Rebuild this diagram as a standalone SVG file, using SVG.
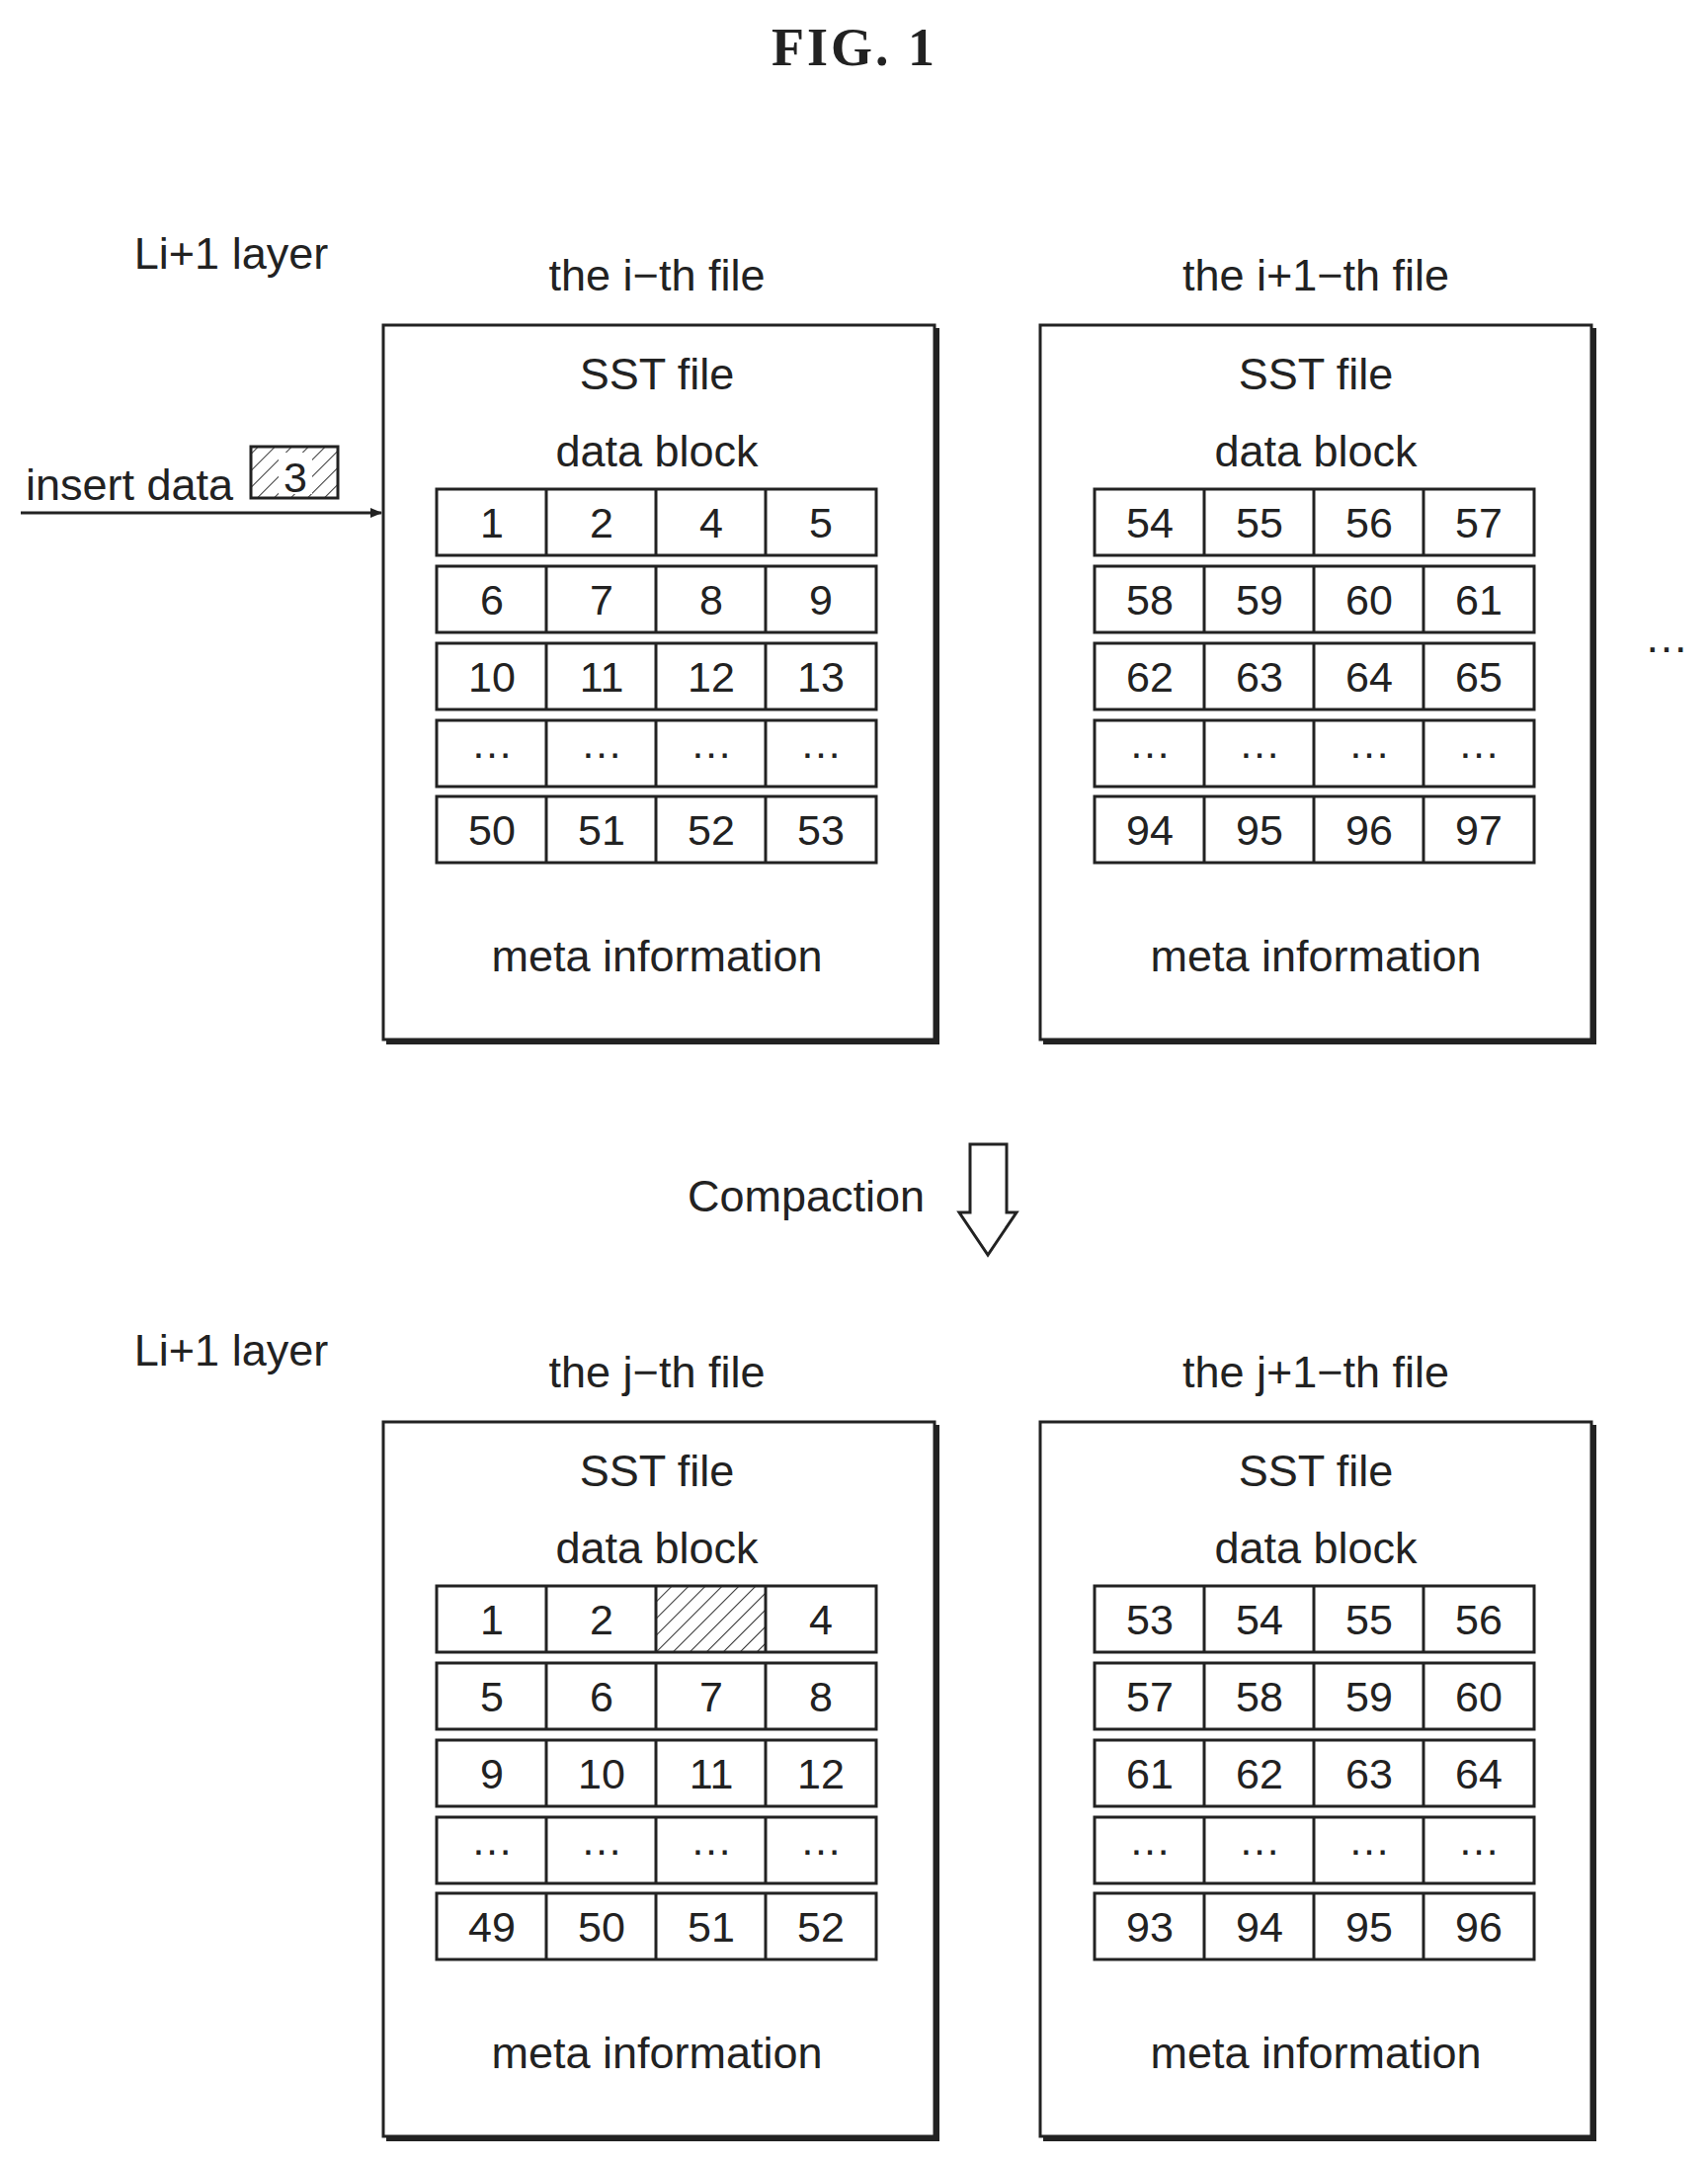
<svg xmlns="http://www.w3.org/2000/svg" width="1729" height="2190" viewBox="0 0 1729 2190">
<style>
text{font-family:"Liberation Sans",Arial,sans-serif;fill:#222;text-anchor:middle}
.t{font-size:45px}
.n{font-size:43px}
.box{fill:none;stroke:#222;stroke-width:3}
.sh{stroke:#222;stroke-width:6;fill:none}
.cell{fill:none;stroke:#222;stroke-width:3}
</style>
<defs>
<pattern id="hatch" width="12" height="12" patternUnits="userSpaceOnUse" patternTransform="rotate(45)">
<line x1="0" y1="0" x2="0" y2="12" stroke="#333" stroke-width="2"/>
</pattern>
<marker id="ah" markerWidth="12" markerHeight="10" refX="11" refY="5" orient="auto" markerUnits="userSpaceOnUse">
<path d="M0,0 L12,5 L0,10 Z" fill="#222"/>
</marker>
</defs>
<rect width="1729" height="2190" fill="#fff"/>
<text x="865" y="66" style="font-family:'Liberation Serif',serif;font-weight:bold;font-size:54px;letter-spacing:3px">FIG.  1</text>

<g id="top-layer-label"><text class="t" x="234" y="272">Li+1  layer</text></g>
<g id="bottom-layer-label"><text class="t" x="234" y="1382">Li+1  layer</text></g>

<g id="insert">
<text class="t" x="131" y="506">insert data</text>
<rect x="254" y="452" width="88" height="52" fill="url(#hatch)" stroke="#222" stroke-width="3"/>
<rect x="282" y="458" width="34" height="42" fill="#fff"/>
<text class="n" x="299" y="498">3</text>
</g>

<g id="connectors">
<line x1="21" y1="519" x2="386" y2="519" stroke="#222" stroke-width="3" marker-end="url(#ah)"/>
<path d="M982,1158 L1019,1158 L1019,1227 L1029,1227 L1000,1270 L971,1227 L982,1227 Z" fill="none" stroke="#222" stroke-width="3"/>
</g>
<g id="compaction"><text class="t" x="816" y="1226">Compaction</text></g>
<g id="dots"><text class="t" x="1687" y="660">…</text></g>

<g id="file-i">
<text class="t" x="665" y="294">the i−th file</text>
<rect class="box" x="388" y="329" width="558" height="723"/>
<polyline class="sh" points="948,332 948,1054 391,1054"/>
<text class="t" x="665" y="394">SST file</text>
<text class="t" x="665" y="472">data block</text>
<g transform="translate(442,495)">
<rect class="cell" x="0" y="0" width="445" height="67"/><rect class="cell" x="0" y="78" width="445" height="67"/><rect class="cell" x="0" y="156" width="445" height="67"/><rect class="cell" x="0" y="234" width="445" height="67"/><rect class="cell" x="0" y="311" width="445" height="67"/>
<path d="M111,0V67M222,0V67M333,0V67M111,78V145M222,78V145M333,78V145M111,156V223M222,156V223M333,156V223M111,234V301M222,234V301M333,234V301M111,311V378M222,311V378M333,311V378" stroke="#222" stroke-width="3"/>
<text class="n" x="56" y="49">1</text><text class="n" x="167" y="49">2</text><text class="n" x="278" y="49">4</text><text class="n" x="389" y="49">5</text>
<text class="n" x="56" y="127">6</text><text class="n" x="167" y="127">7</text><text class="n" x="278" y="127">8</text><text class="n" x="389" y="127">9</text>
<text class="n" x="56" y="205">10</text><text class="n" x="167" y="205">11</text><text class="n" x="278" y="205">12</text><text class="n" x="389" y="205">13</text>
<text class="n" x="56" y="272">…</text><text class="n" x="167" y="272">…</text><text class="n" x="278" y="272">…</text><text class="n" x="389" y="272">…</text>
<text class="n" x="56" y="360">50</text><text class="n" x="167" y="360">51</text><text class="n" x="278" y="360">52</text><text class="n" x="389" y="360">53</text>
</g>
<text class="t" x="665" y="983">meta information</text>
</g>

<g id="file-i1">
<text class="t" x="1332" y="294">the i+1−th file</text>
<rect class="box" x="1053" y="329" width="558" height="723"/>
<polyline class="sh" points="1613,332 1613,1054 1056,1054"/>
<text class="t" x="1332" y="394">SST file</text>
<text class="t" x="1332" y="472">data block</text>
<g transform="translate(1108,495)">
<rect class="cell" x="0" y="0" width="445" height="67"/><rect class="cell" x="0" y="78" width="445" height="67"/><rect class="cell" x="0" y="156" width="445" height="67"/><rect class="cell" x="0" y="234" width="445" height="67"/><rect class="cell" x="0" y="311" width="445" height="67"/>
<path d="M111,0V67M222,0V67M333,0V67M111,78V145M222,78V145M333,78V145M111,156V223M222,156V223M333,156V223M111,234V301M222,234V301M333,234V301M111,311V378M222,311V378M333,311V378" stroke="#222" stroke-width="3"/>
<text class="n" x="56" y="49">54</text><text class="n" x="167" y="49">55</text><text class="n" x="278" y="49">56</text><text class="n" x="389" y="49">57</text>
<text class="n" x="56" y="127">58</text><text class="n" x="167" y="127">59</text><text class="n" x="278" y="127">60</text><text class="n" x="389" y="127">61</text>
<text class="n" x="56" y="205">62</text><text class="n" x="167" y="205">63</text><text class="n" x="278" y="205">64</text><text class="n" x="389" y="205">65</text>
<text class="n" x="56" y="272">…</text><text class="n" x="167" y="272">…</text><text class="n" x="278" y="272">…</text><text class="n" x="389" y="272">…</text>
<text class="n" x="56" y="360">94</text><text class="n" x="167" y="360">95</text><text class="n" x="278" y="360">96</text><text class="n" x="389" y="360">97</text>
</g>
<text class="t" x="1332" y="983">meta information</text>
</g>

<g id="file-j">
<text class="t" x="665" y="1404">the j−th file</text>
<rect class="box" x="388" y="1439" width="558" height="723"/>
<polyline class="sh" points="948,1442 948,2164 391,2164"/>
<text class="t" x="665" y="1504">SST file</text>
<text class="t" x="665" y="1582">data block</text>
<g transform="translate(442,1605)">
<rect x="222" y="0" width="111" height="67" fill="url(#hatch)"/>
<rect class="cell" x="0" y="0" width="445" height="67"/><rect class="cell" x="0" y="78" width="445" height="67"/><rect class="cell" x="0" y="156" width="445" height="67"/><rect class="cell" x="0" y="234" width="445" height="67"/><rect class="cell" x="0" y="311" width="445" height="67"/>
<path d="M111,0V67M222,0V67M333,0V67M111,78V145M222,78V145M333,78V145M111,156V223M222,156V223M333,156V223M111,234V301M222,234V301M333,234V301M111,311V378M222,311V378M333,311V378" stroke="#222" stroke-width="3"/>
<text class="n" x="56" y="49">1</text><text class="n" x="167" y="49">2</text><text class="n" x="389" y="49">4</text>
<text class="n" x="56" y="127">5</text><text class="n" x="167" y="127">6</text><text class="n" x="278" y="127">7</text><text class="n" x="389" y="127">8</text>
<text class="n" x="56" y="205">9</text><text class="n" x="167" y="205">10</text><text class="n" x="278" y="205">11</text><text class="n" x="389" y="205">12</text>
<text class="n" x="56" y="272">…</text><text class="n" x="167" y="272">…</text><text class="n" x="278" y="272">…</text><text class="n" x="389" y="272">…</text>
<text class="n" x="56" y="360">49</text><text class="n" x="167" y="360">50</text><text class="n" x="278" y="360">51</text><text class="n" x="389" y="360">52</text>
</g>
<text class="t" x="665" y="2093">meta information</text>
</g>

<g id="file-j1">
<text class="t" x="1332" y="1404">the j+1−th file</text>
<rect class="box" x="1053" y="1439" width="558" height="723"/>
<polyline class="sh" points="1613,1442 1613,2164 1056,2164"/>
<text class="t" x="1332" y="1504">SST file</text>
<text class="t" x="1332" y="1582">data block</text>
<g transform="translate(1108,1605)">
<rect class="cell" x="0" y="0" width="445" height="67"/><rect class="cell" x="0" y="78" width="445" height="67"/><rect class="cell" x="0" y="156" width="445" height="67"/><rect class="cell" x="0" y="234" width="445" height="67"/><rect class="cell" x="0" y="311" width="445" height="67"/>
<path d="M111,0V67M222,0V67M333,0V67M111,78V145M222,78V145M333,78V145M111,156V223M222,156V223M333,156V223M111,234V301M222,234V301M333,234V301M111,311V378M222,311V378M333,311V378" stroke="#222" stroke-width="3"/>
<text class="n" x="56" y="49">53</text><text class="n" x="167" y="49">54</text><text class="n" x="278" y="49">55</text><text class="n" x="389" y="49">56</text>
<text class="n" x="56" y="127">57</text><text class="n" x="167" y="127">58</text><text class="n" x="278" y="127">59</text><text class="n" x="389" y="127">60</text>
<text class="n" x="56" y="205">61</text><text class="n" x="167" y="205">62</text><text class="n" x="278" y="205">63</text><text class="n" x="389" y="205">64</text>
<text class="n" x="56" y="272">…</text><text class="n" x="167" y="272">…</text><text class="n" x="278" y="272">…</text><text class="n" x="389" y="272">…</text>
<text class="n" x="56" y="360">93</text><text class="n" x="167" y="360">94</text><text class="n" x="278" y="360">95</text><text class="n" x="389" y="360">96</text>
</g>
<text class="t" x="1332" y="2093">meta information</text>
</g>
</svg>
